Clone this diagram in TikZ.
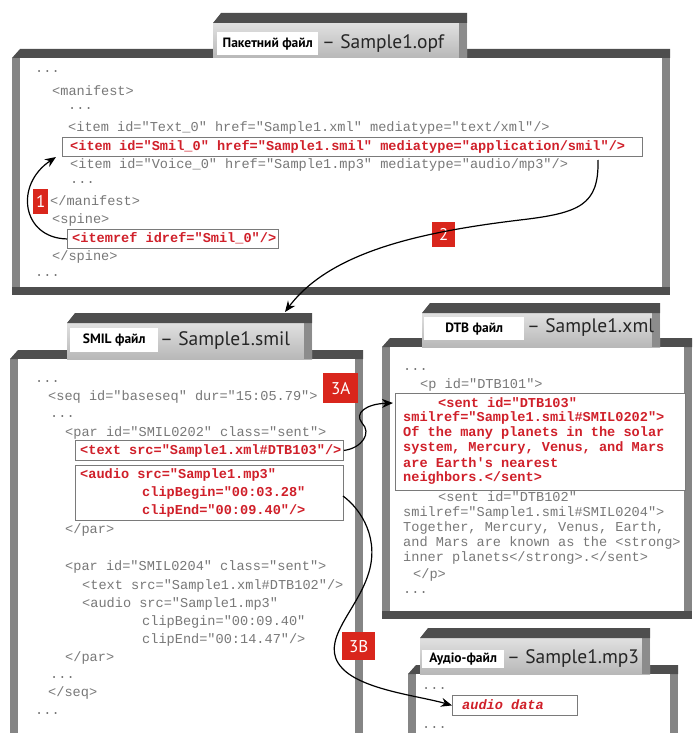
\documentclass[tikz,border=0pt]{standalone}
\usepackage{fontspec}
\setmonofont{Liberation Mono}
\newfontfamily\labfont{PT Sans}
\usetikzlibrary{arrows.meta}
\definecolor{codegray}{HTML}{787878}
\definecolor{codered}{HTML}{D0202A}
\definecolor{badgered}{HTML}{D9261C}
\definecolor{framedark}{HTML}{4E4E4E}
\definecolor{framemid}{HTML}{858585}
\definecolor{boxgray}{HTML}{7A7A7A}
\newcommand\mypanel[7]{%
  \fill[framemid] (#1,#2+9) rectangle (#3,#4);
  \fill[framedark] (#1,#2+9) -- (#1+8,#2) -- (#3,#2) -- (#3,#2+9) -- cycle;
  \fill[framedark] (#1,#4-8) rectangle (#3,#4);
  \fill[white] (#1+8,#2+9) rectangle (#3-8,#4-8);
  \shade[top color=black!12, bottom color=black!28] (#5,#6+10) rectangle (#7,#2+9);
  \fill[black!45] (#7-8,#6+10) rectangle (#7,#2+9);
  \fill[framedark] (#5,#6+10) -- (#5+8,#6) -- (#7,#6) -- (#7,#6+10) -- cycle;
}
\tikzset{
  code/.style={font=\ttfamily\fontsize{13.6}{16}\selectfont, text=codegray, anchor=west, inner sep=0pt},
  codeb/.style={font=\ttfamily\fontsize{13.6}{16}\bfseries\selectfont, text=codered, anchor=west, inner sep=0pt},
  hlbox/.style={draw=boxgray, line width=0.9pt, fill=white, inner sep=0pt, anchor=north west},
  lablit/.style={fill=white, inner sep=0pt, anchor=north west, font=\labfont\bfseries\fontsize{13.5}{13.5}\selectfont},
  labbig/.style={anchor=west, inner sep=0pt, font=\labfont\fontsize{19.5}{19.5}\selectfont, text=black!85},
  badge/.style={fill=badgered, text=white, inner sep=0pt, anchor=north west, font=\labfont\fontsize{17}{17}\selectfont},
  arr/.style={-{Stealth[length=11pt,width=9pt]}, line width=1.2pt, black}
}
\begin{document}
\begin{tikzpicture}[x=1pt,y=-1pt]
\useasboundingbox (0,0) rectangle (693,733);
% ---------- panels ----------
\mypanel{12}{49}{670}{295}{213}{13}{467}
\mypanel{10}{350}{363}{741}{67}{313}{312}
\mypanel{382}{338}{692}{619}{422}{303}{660}
\mypanel{408}{665}{678}{745}{420}{628}{650}
% ---------- labels ----------
\node[lablit, minimum width=101pt, minimum height=23pt] (lab1) at (217,32) {Пакетний файл};
\node[labbig] (big1) at (322,44) {– Sample1.opf};
\node[lablit, minimum width=88pt, minimum height=24pt] (lab2) at (70,328) {SMIL файл};
\node[labbig] (big2) at (160,341) {– Sample1.smil};
\node[lablit, minimum width=100pt, minimum height=23pt] (lab3) at (424,317) {DTB файл};
\node[labbig] (big3) at (527,328) {– Sample1.xml};
\node[lablit, minimum width=82pt, minimum height=18pt] (lab4) at (422,650) {Аудіо-файл};
\node[labbig] (big4) at (507,658) {– Sample1.mp3};
% ---------- package file ----------
\node[code] (p1) at (35,72) {...};
\node[code] (p2) at (52,91) {<manifest>};
\node[code] (p3) at (68,109) {...};
\node[code] (p4) at (68,128) {<item id="Text\_0" href="Sample1.xml" mediatype="text/xml"/>};
\node[hlbox, minimum width=580pt, minimum height=19pt] (boxsmil) at (62,137) {};
\node[codeb] (p5) at (70,146.5) {<item id="Smil\_0" href="Sample1.smil" mediatype="application/smil"/>};
\node[code] (p6) at (70,165) {<item id="Voice\_0" href="Sample1.mp3" mediatype="audio/mp3"/>};
\node[code] (p7) at (70,183) {...};
\node[code] (p8) at (50,201) {</manifest>};
\node[code] (p9) at (52,220) {<spine>};
\node[hlbox, minimum width=211pt, minimum height=19pt] (boxref) at (67,229) {};
\node[codeb] (p10) at (72,238.5) {<itemref idref="Smil\_0"/>};
\node[code] (p11) at (52,257) {</spine>};
\node[code] (p12) at (35,276) {...};
\node[badge, minimum width=15pt, minimum height=25pt] (b1) at (33,189) {1};
\node[badge, minimum width=23pt, minimum height=25pt] (b2) at (432,222) {2};
% ---------- SMIL file ----------
\node[code] (s1) at (35,382) {...};
\node[code] (s2) at (48,397) {<seq id="baseseq" dur="15:05.79">};
\node[code] (s3) at (50,417) {...};
\node[code] (s4) at (65,433) {<par id="SMIL0202" class="sent">};
\node[hlbox, minimum width=268pt, minimum height=20pt] (boxtext) at (75,440) {};
\node[codeb] (s5) at (80,450.5) {<text src="Sample1.xml\#DTB103"/>};
\node[hlbox, minimum width=268pt, minimum height=55pt] (boxaudio) at (75,465) {};
\node[codeb] (s6) at (80,475) {<audio src="Sample1.mp3"};
\node[codeb] (s7) at (142,493) {clipBegin="00:03.28"};
\node[codeb] (s8) at (142,511) {clipEnd="00:09.40"/>};
\node[code] (s9) at (65,530) {</par>};
\node[code] (s10) at (65,567) {<par id="SMIL0204" class="sent">};
\node[code] (s11) at (82,586) {<text src="Sample1.xml\#DTB102"/>};
\node[code] (s12) at (82,604) {<audio src="Sample1.mp3"};
\node[code] (s13) at (142,622) {clipBegin="00:09.40"};
\node[code] (s14) at (142,640) {clipEnd="00:14.47"/>};
\node[code] (s15) at (65,658) {</par>};
\node[code] (s16) at (50,677) {...};
\node[code] (s17) at (48,693) {</seq>};
\node[code] (s18) at (35,713) {...};
\node[badge, minimum width=35pt, minimum height=30pt] (b3a) at (323,373) {3A};
\node[badge, minimum width=33pt, minimum height=28pt] (b3b) at (342,632) {3B};
% ---------- DTB file ----------
\node[code] (d1) at (403,370) {...};
\node[code] (d2) at (420,385) {<p id="DTB101">};
\node[hlbox, minimum width=290pt, minimum height=97pt] (boxdtb) at (395,393) {};
\node[codeb] (d3) at (438,403) {<sent id="DTB103"};
\node[codeb] (d4) at (403,418) {smilref="Sample1.smil\#SMIL0202">};
\node[codeb] (d5) at (403,433) {Of the many planets in the solar};
\node[codeb] (d6) at (403,448) {system, Mercury, Venus, and Mars};
\node[codeb] (d7) at (403,463) {are Earth's nearest};
\node[codeb] (d8) at (403,478) {neighbors.</sent>};
\node[code] (d9) at (438,497) {<sent id="DTB102"};
\node[code] (d10) at (403,513) {smilref="Sample1.smil\#SMIL0204">};
\node[code] (d11) at (403,528) {Together, Mercury, Venus, Earth,};
\node[code] (d12) at (403,543) {and Mars are known as the <strong>};
\node[code] (d13) at (403,558) {inner planets</strong>.</sent>};
\node[code] (d14) at (413,575) {</p>};
\node[code] (d15) at (403,593) {...};
% ---------- audio file ----------
\node[code] (a1) at (422,688) {...};
\node[hlbox, minimum width=125pt, minimum height=20pt] (boxad) at (452,695) {};
\node[codeb, font=\ttfamily\fontsize{13.6}{16}\bfseries\itshape\selectfont] (a2) at (462,705) {audio data};
\node[code] (a3) at (422,727) {...};
% ---------- connectors ----------
\coordinate (c1end) at (56,157);
\draw[arr] (boxref.west) .. controls (22,238) and (14,185) .. (c1end);
\coordinate (c2start) at (598,160);
\coordinate (c2mid) at (520,220);
\coordinate (c2end) at (285,312);
\draw[arr] (c2start) .. controls (599,205) and (580,213) .. (c2mid)
  .. controls (420,232) and (330,252) .. (c2end);
\coordinate (c3mid) at (362,423);
\coordinate (c3end) at (393,403);
\draw[arr] (boxtext.east) .. controls (362,448) and (372,433) .. (c3mid)
  .. controls (354,413) and (366,404) .. (c3end);
\coordinate (c4start) at (343,496);
\coordinate (c4mid) at (368,575);
\coordinate (c4low) at (342,668);
\draw[arr] (c4start) .. controls (362,510) and (380,540) .. (c4mid)
  .. controls (356,612) and (318,642) .. (c4low)
  .. controls (362,690) and (420,696) .. (boxad.west);
\end{tikzpicture}
\end{document}
